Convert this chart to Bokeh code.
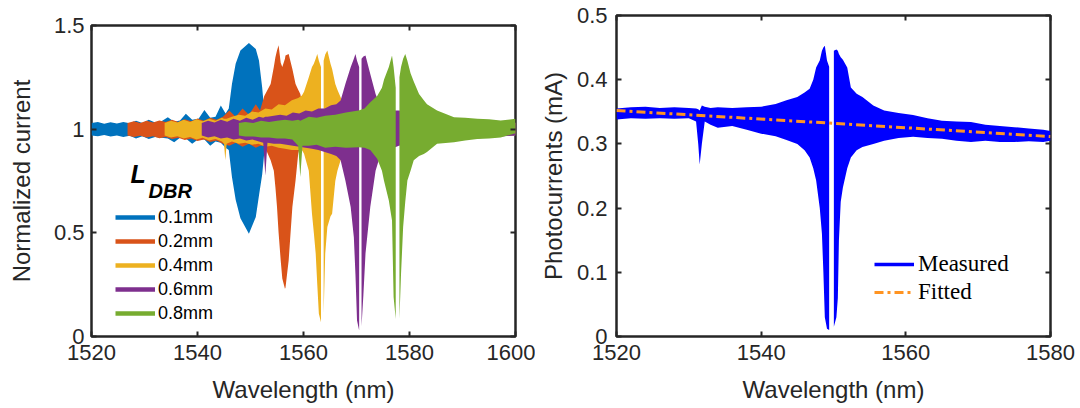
import math
from bokeh.plotting import figure
from bokeh.models import (Range1d, FixedTicker, LinearAxis, Legend, LegendItem,
                          Label, CustomJSTickFormatter)
from bokeh.layouts import row
from bokeh.embed import file_html
from bokeh.resources import INLINE

NAN = float("nan")

# ---------------- left panel data (envelopes of the dense oscillation) -------------
series_names = ["0.1mm", "0.2mm", "0.4mm", "0.6mm", "0.8mm"]
series_colors = ["#0072BD", "#D95319", "#EDB120", "#7E2F8E", "#77AC30"]

b_wl = [1520, 1521.2, 1522.4, 1523.6, 1524.8, 1526.0, 1527.2, 1528.4, 1529.6, 1530.8,
        1532.0, 1533.2, 1534.4, 1535.6, 1536.7, 1537.8, 1539.0, 1540.2, 1541.3, 1542.4,
        1543.4, 1544.4, 1545.3, 1545.9,
        1546.5, 1547.2, 1548.1, 1549.7, 1551.0, 1551.6, 1552.2, 1552.7, 1553.5, 1556,
        1560, 1565, 1570, 1580, 1590, 1600]
b_up = [1.03, 1.034, 1.026, 1.033, 1.027, 1.035, 1.028, 1.04, 1.03, 1.045,
        1.032, 1.038, 1.058, 1.036, 1.042, 1.074, 1.045, 1.05, 1.093, 1.055,
        1.06, 1.114, 1.075, 1.10,
        1.218, 1.315, 1.379, 1.415, 1.387, 1.331, 1.202, 1.06, 1.03, 1.03,
        1.03, 1.03, 1.03, 1.03, 1.03, 1.03]
b_lo = [0.97, 0.966, 0.972, 0.965, 0.97, 0.962, 0.968, 0.955, 0.966, 0.952,
        0.962, 0.958, 0.955, 0.937, 0.958, 0.955, 0.93, 0.952, 0.95, 0.92,
        0.94, 0.935, 0.91, 0.9,
        0.769, 0.66, 0.57, 0.496, 0.576, 0.68, 0.78, 0.913, 0.97, 0.97,
        0.97, 0.97, 0.97, 0.97, 0.97, 0.97]

o_wl = [1526.8, 1528, 1529.2, 1530.4, 1531.6, 1532.8, 1534, 1535.2, 1536.4, 1537.6,
        1538.8, 1540, 1541.2, 1542.4, 1543.6, 1544.8, 1546.0, 1547.2, 1548.5, 1549.7,
        1551.0, 1551.8, 1552.6,
        1553.8, 1554.4, 1554.7, 1555.0, 1555.3, 1555.7, 1556.0, 1556.5, 1556.6, 1557.2,
        1557.9, 1558.5, 1559.0, 1559.4, 1560, 1562, 1565, 1570, 1580, 1590, 1600]
o_up = [1.03, 1.038, 1.03, 1.04, 1.032, 1.042, 1.034, 1.045, 1.035, 1.048,
        1.038, 1.052, 1.04, 1.055, 1.045, 1.06, 1.09, 1.06, 1.10, 1.07,
        1.12, 1.09, 1.16,
        1.218, 1.30, 1.347, 1.38, 1.405, 1.32, 1.30, 1.34, 1.355, 1.363,
        1.29, 1.218, 1.19, 1.17, 1.09, 1.05, 1.04, 1.035, 1.03, 1.03, 1.03]
o_lo = [0.97, 0.962, 0.968, 0.96, 0.966, 0.956, 0.962, 0.952, 0.958, 0.948,
        0.955, 0.943, 0.95, 0.938, 0.945, 0.93, 0.92, 0.935, 0.915, 0.93,
        0.91, 0.92, 0.92,
        0.85, 0.80, 0.72, 0.624, 0.50, 0.367, 0.28, 0.23, 0.235, 0.367,
        0.624, 0.753, 0.881, 0.92, 0.95, 0.96, 0.965, 0.97, 0.97, 0.975, 0.975]

y_wl = [1533.8, 1535, 1536.2, 1537.4, 1538.6, 1539.8, 1541, 1542.2, 1543.4, 1544.6,
        1545.0, 1545.25, 1545.5, 1546.5, 1547.8, 1549, 1550.3, 1551.5, 1552.8, 1554,
        1555.3, 1556.5, 1557.8, 1559,
        1559.7, 1560.1, 1561.0, 1561.6, 1561.95, 1562.3, 1562.6, 1562.9, 1563.3, NAN,
        1563.8, 1564.1, 1564.5, 1565.1, 1565.4, 1566.0, 1566.4, 1567.0, 1568, 1570,
        1575, 1580, 1590, 1600]
y_up = [1.03, 1.04, 1.032, 1.045, 1.035, 1.048, 1.038, 1.05, 1.04, 1.055,
        1.05, 1.05, 1.05, 1.06, 1.07, 1.065, 1.085, 1.08, 1.10, 1.095,
        1.12, 1.115, 1.14, 1.15,
        1.162, 1.18, 1.25, 1.30, 1.315, 1.34, 1.363, 1.33, 1.30, NAN,
        1.33, 1.36, 1.379, 1.315, 1.29, 1.218, 1.19, 1.154, 1.11, 1.07,
        1.05, 1.04, 1.035, 1.03]
y_lo = [0.97, 0.96, 0.966, 0.955, 0.962, 0.95, 0.958, 0.945, 0.952, 0.94,
        0.93, 0.85, 0.93, 0.94, 0.93, 0.935, 0.925, 0.93, 0.915, 0.92,
        0.91, 0.905, 0.90, 0.90,
        0.90, 0.881, 0.80, 0.592, 0.50, 0.40, 0.25, 0.11, 0.069, NAN,
        0.11, 0.40, 0.528, 0.58, 0.592, 0.75, 0.80, 0.85, 0.89, 0.92,
        0.95, 0.96, 0.97, 0.97]

p_wl = [1540.8, 1542, 1543.2, 1544.4, 1545.6, 1546.8, 1548, 1549.2, 1550.4, 1551.6,
        1552.4, 1552.8, 1553.2, 1554.4, 1555.6, 1556.8, 1558, 1559.2, 1560.4, 1561.6,
        1562.8, 1564, 1565.2, 1566.2,
        1567.0, 1567.9, 1568.9, 1569.5, 1569.8, 1570.1, 1570.5, NAN, 1570.95, 1571.3,
        1571.7, 1572.6, 1573.6, 1574.2, 1574.5, 1576, 1578, 1580, 1585, 1590, 1595, 1600]
p_up = [1.03, 1.04, 1.032, 1.045, 1.036, 1.05, 1.04, 1.055, 1.045, 1.06,
        1.055, 1.06, 1.06, 1.065, 1.07, 1.065, 1.08, 1.075, 1.09, 1.085,
        1.10, 1.10, 1.115, 1.12,
        1.138, 1.218, 1.299, 1.34, 1.363, 1.33, 1.30, NAN, 1.34, 1.35,
        1.355, 1.266, 1.17, 1.13, 1.106, 1.09, 1.09, 1.08, 1.06, 1.045, 1.04, 1.035]
p_lo = [0.97, 0.96, 0.966, 0.955, 0.96, 0.95, 0.955, 0.945, 0.95, 0.94,
        0.935, 0.777, 0.935, 0.93, 0.93, 0.925, 0.92, 0.915, 0.91, 0.905,
        0.90, 0.89, 0.88, 0.87,
        0.85, 0.753, 0.624, 0.479, 0.30, 0.077, 0.029, NAN, 0.05, 0.2,
        0.40, 0.624, 0.80, 0.85, 0.87, 0.9, 0.92, 0.93, 0.94, 0.95, 0.96, 0.97]

g_wl = [1547.8, 1549, 1550.5, 1552, 1553.5, 1555, 1556.5, 1557.9, 1559.0, 1559.4, 1559.8,
        1561, 1562.5, 1564.1, 1566, 1568, 1570.4, 1571.5, 1572.6, 1573.9, 1574.8, 1575.2,
        1576.1, 1576.7, 1577.0, 1577.4, NAN, 1578.1, 1578.4, 1578.8, 1579.2, 1579.6,
        1580.2, 1580.8, 1581.8, 1582.7, 1583.3, 1585.2, 1588.4, 1590.5, 1592.8, 1595,
        1597.2, 1600]
g_up = [1.03, 1.035, 1.03, 1.04, 1.035, 1.04, 1.045, 1.04, 1.045, 1.04, 1.045,
        1.06, 1.055, 1.065, 1.07, 1.08, 1.09, 1.10, 1.13, 1.16, 1.20, 1.24,
        1.30, 1.355, 1.30, 1.20, NAN, 1.25, 1.30, 1.34, 1.363, 1.33,
        1.27, 1.23, 1.17, 1.14, 1.12, 1.09, 1.058, 1.055, 1.05, 1.048,
        1.042, 1.05]
g_lo = [0.97, 0.965, 0.965, 0.96, 0.96, 0.955, 0.955, 0.95, 0.92, 0.769, 0.92,
        0.92, 0.925, 0.91, 0.915, 0.91, 0.913, 0.91, 0.90, 0.857, 0.80, 0.75,
        0.656, 0.56, 0.19, 0.085, NAN, 0.085, 0.30, 0.528, 0.65, 0.753,
        0.80, 0.85, 0.87, 0.88, 0.89, 0.93, 0.937, 0.945, 0.953, 0.955,
        0.96, 0.98]

left_wl = [b_wl, o_wl, y_wl, p_wl, g_wl]
left_up = [b_up, o_up, y_up, p_up, g_up]
left_lo = [b_lo, o_lo, y_lo, p_lo, g_lo]

left_xticks = [1520, 1540, 1560, 1580, 1600]
left_yticks = [0, 0.5, 1, 1.5]

# ---------------- right panel data ----------------
m_wl = [1520, 1522, 1524, 1526, 1528, 1530, 1531.0, 1531.3, 1531.5, 1531.8, 1532.2, 1533,
        1534, 1536, 1538, 1540, 1542, 1543.5, 1545, 1546, 1546.7, 1547.2, 1547.6, 1548.1,
        1548.4, 1548.6, 1548.8, 1549.1, 1549.4, NAN, 1550.05, 1550.4, 1550.6, 1550.75,
        1551.0, 1551.3, 1551.9, 1552.4, 1553.2, 1554, 1555.5, 1557, 1559, 1561, 1563,
        1565, 1567, 1569, 1571, 1573, 1575, 1577, 1579, 1580]
m_up = [0.355, 0.357, 0.358, 0.356, 0.357, 0.356, 0.355, 0.354, 0.352, 0.360, 0.358, 0.356,
        0.357, 0.356, 0.357, 0.358, 0.362, 0.368, 0.373, 0.380, 0.386, 0.40, 0.419, 0.43,
        0.445, 0.450, 0.453, 0.43, 0.42, NAN, 0.445, 0.447, 0.445, 0.44,
        0.435, 0.431, 0.419, 0.388, 0.378, 0.373, 0.36, 0.352, 0.348, 0.345, 0.340,
        0.336, 0.335, 0.334, 0.330, 0.328, 0.326, 0.324, 0.322, 0.320]
m_lo = [0.338, 0.340, 0.339, 0.340, 0.339, 0.340, 0.335, 0.300, 0.268, 0.300, 0.335, 0.330,
        0.325, 0.328, 0.322, 0.316, 0.312, 0.306, 0.300, 0.290, 0.279, 0.262, 0.243, 0.20,
        0.16, 0.10, 0.03, 0.012, 0.010, NAN, 0.015, 0.03, 0.06, 0.15,
        0.21, 0.232, 0.262, 0.279, 0.29, 0.295, 0.30, 0.305, 0.309, 0.311, 0.309,
        0.308, 0.305, 0.303, 0.305, 0.303, 0.303, 0.304, 0.303, 0.305]

fit_wl = [1520, 1550, 1580]
fit_val = [0.352, 0.332, 0.3115]

right_xticks = [1520, 1540, 1560, 1580]
right_yticks = [0, 0.1, 0.2, 0.3, 0.4, 0.5]

right_names = ["Measured", "Fitted"]

# ---------------- helpers ----------------
INK = "#262626"
SANS = "Liberation Sans"


def segments(x, lo, hi):
    segs, cx, cl, ch = [], [], [], []
    for a, b, c in zip(x, lo, hi):
        if math.isnan(a) or math.isnan(b) or math.isnan(c):
            if cx:
                segs.append((cx, cl, ch))
            cx, cl, ch = [], [], []
        else:
            cx.append(a); cl.append(b); ch.append(c)
    if cx:
        segs.append((cx, cl, ch))
    return segs


def make_fig(xr, yr, xt, yt, fw, fh, bl, br, bt, bb, ylabel, ylab_standoff, ytick_standoff):
    p = figure(frame_width=fw, frame_height=fh, title=None,
               min_border_left=bl, min_border_right=br,
               min_border_top=bt, min_border_bottom=bb,
               x_range=Range1d(*xr), y_range=Range1d(*yr),
               output_backend="svg", toolbar_location=None,
               background_fill_color="white", border_fill_color="white")
    p.frame_align = False
    p.grid.visible = False
    p.outline_line_color = INK
    p.outline_line_width = 2.5
    fmt = CustomJSTickFormatter(code="return tick.toString();")
    blank = CustomJSTickFormatter(code="return '';")
    for ax, ticks in ((p.xaxis[0], xt), (p.yaxis[0], yt)):
        ax.ticker = FixedTicker(ticks=ticks)
        ax.formatter = fmt
        ax.axis_line_color = None
        ax.major_tick_in = 5
        ax.major_tick_out = 0
        ax.major_tick_line_color = INK
        ax.major_tick_line_width = 2
        ax.minor_tick_line_color = None
        ax.major_label_text_font = SANS
        ax.major_label_text_font_size = "22px"
        ax.major_label_text_color = INK
        ax.axis_label_text_font = SANS
        ax.axis_label_text_font_size = "24px"
        ax.axis_label_text_font_style = "normal"
        ax.axis_label_text_color = INK
    p.xaxis[0].axis_label = "Wavelength (nm)"
    p.xaxis[0].major_label_standoff = 8
    p.xaxis[0].axis_label_standoff = 13
    p.yaxis[0].axis_label = ylabel
    p.yaxis[0].major_label_standoff = ytick_standoff
    p.yaxis[0].axis_label_standoff = ylab_standoff
    for place, ticks in (("above", xt), ("right", yt)):
        ax = LinearAxis(ticker=FixedTicker(ticks=ticks), formatter=blank,
                        axis_line_color=None, major_tick_in=5, major_tick_out=0,
                        major_tick_line_color=INK, major_tick_line_width=2,
                        minor_tick_line_color=None, major_label_standoff=0,
                        major_label_text_font_size="1px")
        p.add_layout(ax, place)
    return p


# ---------------- left figure ----------------
p1 = make_fig((1520, 1600), (0, 1.5), left_xticks, left_yticks,
              424, 311, 91, 20, 25, 72, "Normalized current", 16, 7)

items = []
for name, col, xs, ups, los in zip(series_names, series_colors, left_wl, left_up, left_lo):
    for sx, sl, sh in segments(xs, los, ups):
        p1.varea(x=sx, y1=sl, y2=sh, fill_color=col, fill_alpha=1.0)
for name, col, xs, ups in zip(series_names, series_colors, left_wl, left_up):
    # legend key only (the series itself is drawn by the filled band above)
    r = p1.line(x=xs, y=ups, line_color=col, line_width=4.5, visible=False)
    items.append(LegendItem(label=name, renderers=[r]))

leg1 = Legend(items=items, location=(24, 11), orientation="vertical",
              glyph_width=40, glyph_height=24, label_height=24, spacing=0,
              padding=0, margin=0, label_standoff=3,
              label_text_font=SANS, label_text_font_size="18px",
              label_text_color="black", border_line_color=None,
              background_fill_alpha=0, inactive_fill_alpha=0)
p1.add_layout(leg1)

p1.add_layout(Label(x=39, y=163, x_units="screen", y_units="screen", text="L",
                    text_font=SANS, text_font_style="bold italic",
                    text_font_size="25px", text_color="black",
                    text_baseline="alphabetic"))
p1.add_layout(Label(x=57, y=146, x_units="screen", y_units="screen", text="DBR",
                    text_font=SANS, text_font_style="bold italic",
                    text_font_size="20px", text_color="black",
                    text_baseline="alphabetic"))

# ---------------- right figure ----------------
p2 = make_fig((1520, 1580), (0, 0.5), right_xticks, right_yticks,
              434, 321, 81, 28, 15, 72, "Photocurrents (mA)", 7, 9)

for sx, sl, sh in segments(m_wl, m_lo, m_up):
    p2.varea(x=sx, y1=sl, y2=sh, fill_color="#0000FF", fill_alpha=1.0)
fit_r = p2.line(x=fit_wl, y=fit_val, line_color="#FF9422", line_width=3,
                line_dash="9 4 3 4")
meas_r = p2.line(x=m_wl, y=m_up, line_color="#0000FF", line_width=3.5, visible=False)

leg2 = Legend(items=[LegendItem(label=right_names[0], renderers=[meas_r]),
                     LegendItem(label=right_names[1], renderers=[fit_r])],
              location=(258, 30), orientation="vertical",
              glyph_width=40, glyph_height=28, label_height=28, spacing=0,
              padding=0, margin=0, label_standoff=4,
              label_text_font="Liberation Serif", label_text_font_size="23px",
              label_text_color="black", border_line_color=None,
              background_fill_alpha=0, inactive_fill_alpha=0)
p2.add_layout(leg2)

layout = row(p1, p2)
open("out.html", "w").write(file_html(layout, INLINE))
